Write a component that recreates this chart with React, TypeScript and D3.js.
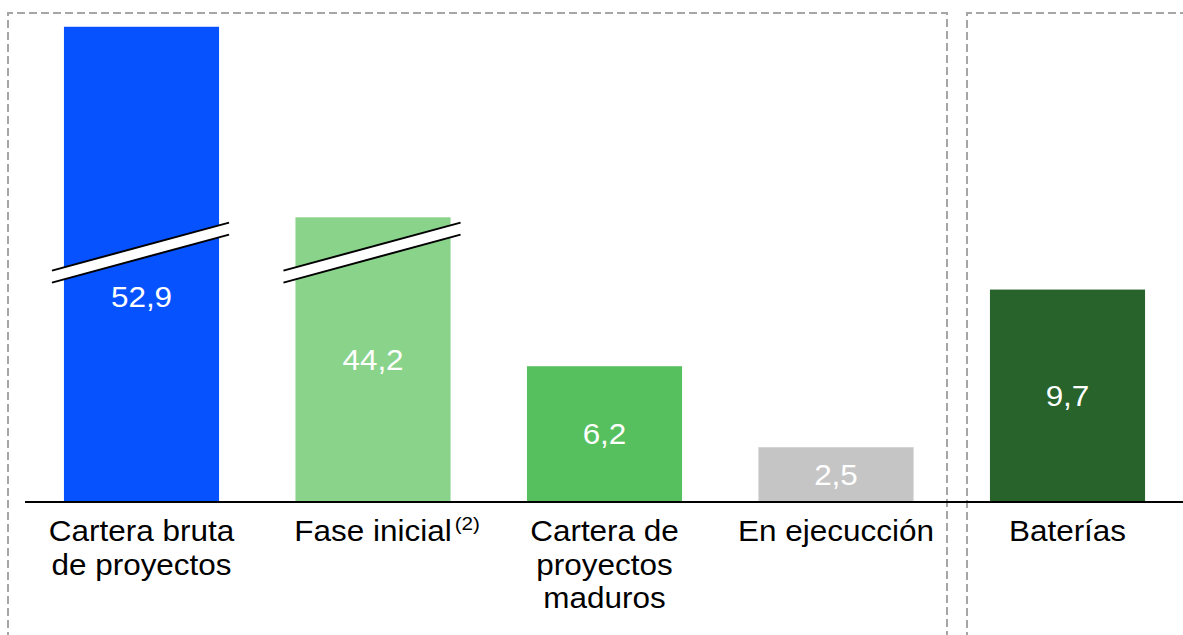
import React, { useRef, useEffect } from 'react';
import * as d3 from 'd3';

// categories, values (what the labels say) and the heights shown (first two bars are broken)
const categories = ['cartera', 'fase', 'maduros', 'ejecucion', 'baterias'];
const labelLines = [
  ['Cartera bruta', 'de proyectos'],
  ['Fase inicial'],
  ['Cartera de', 'proyectos', 'maduros'],
  ['En ejecucción'],
  ['Baterías'],
];
const notes = ['', '(2)', '', '', ''];
const values = [52.9, 44.2, 6.2, 2.5, 9.7];
const shownValues = [21.7, 13.0, 6.2, 2.5, 9.7];
const broken = [true, true, false, false, false];
const valueLabels = ['52,9', '44,2', '6,2', '2,5', '9,7'];
const colors = ['#0652FF', '#8AD38B', '#56BF5E', '#C5C5C5', '#27632B'];
const breakValue = 11.4;

const W = 1183;
const H = 635;
const FONT = 'Liberation Sans, Arial, sans-serif';
const STRETCH = 1.085;

const App = () => {
  const ref = useRef<SVGSVGElement>(null);

  useEffect(() => {
    const svg = d3.select(ref.current);
    svg.selectAll('*').remove();

    const x = d3.scaleBand<string>()
      .domain(categories)
      .range([25.75, 1183.25])
      .paddingInner(0.33)
      .paddingOuter(0.165);
    const y = d3.scaleLinear().domain([0, 10]).range([502, 283]);

    // dashed frames
    const frame = svg.append('g')
      .attr('fill', 'none')
      .attr('stroke', '#A6A6A6')
      .attr('stroke-width', 2)
      .attr('stroke-dasharray', '8,4');
    frame.append('path').attr('d', `M8,${H + 5} L8,13 L947,13 L947,${H + 5}`);
    frame.append('path').attr('d', `M967,${H + 5} L967,13 L${W + 5},13`);

    // bars
    svg.append('g')
      .selectAll('rect')
      .data(categories)
      .join('rect')
      .attr('x', (d) => x(d)!)
      .attr('width', x.bandwidth())
      .attr('y', (d, i) => y(shownValues[i]))
      .attr('height', (d, i) => y(0) - y(shownValues[i]))
      .attr('fill', (d, i) => colors[i]);

    // axis breaks
    const by = y(breakValue);
    const slope = -0.271;
    const gap = 6;
    categories.forEach((c, i) => {
      if (!broken[i]) return;
      const cx = x(c)! + x.bandwidth() / 2;
      const x0 = x(c)! - 12;
      const x1 = x(c)! + x.bandwidth() + 10;
      const yAt = (xx: number, off: number) => by + off + slope * (xx - cx);
      const g = svg.append('g');
      g.append('path')
        .attr('d', `M${x0},${yAt(x0, -gap)} L${x1},${yAt(x1, -gap)} L${x1},${yAt(x1, gap)} L${x0},${yAt(x0, gap)} Z`)
        .attr('fill', '#fff');
      [-gap, gap].forEach((off) => {
        g.append('line')
          .attr('x1', x0).attr('y1', yAt(x0, off))
          .attr('x2', x1).attr('y2', yAt(x1, off))
          .attr('stroke', '#000')
          .attr('stroke-width', 2);
      });
    });

    // baseline
    svg.append('line')
      .attr('x1', 25).attr('x2', W)
      .attr('y1', y(0)).attr('y2', y(0))
      .attr('stroke', '#000')
      .attr('stroke-width', 2);

    // value labels
    categories.forEach((c, i) => {
      const cx = x(c)! + x.bandwidth() / 2;
      let cy = (y(shownValues[i]) + y(0)) / 2;
      if (broken[i] && Math.abs(cy - by) < 40) cy = by + 45;
      svg.append('text')
        .attr('transform', `translate(${cx},${cy + 10}) scale(${STRETCH},1)`)
        .attr('text-anchor', 'middle')
        .attr('font-family', FONT)
        .attr('font-size', 29)
        .attr('fill', '#fff')
        .text(valueLabels[i]);
    });

    // category labels
    categories.forEach((c, i) => {
      const cx = x(c)! + x.bandwidth() / 2;
      labelLines[i].forEach((line, j) => {
        const t = svg.append('text')
          .attr('transform', `translate(${cx},${541 + j * 33.5}) scale(${STRETCH},1)`)
          .attr('text-anchor', 'middle')
          .attr('font-family', FONT)
          .attr('font-size', 29)
          .attr('fill', '#000')
          .text(line);
        if (j === 0 && notes[i]) {
          const w = (t.node() as SVGTextElement).getComputedTextLength() * STRETCH;
          svg.append('text')
            .attr('transform', `translate(${cx + w / 2 + 3},${530}) scale(${STRETCH},1)`)
            .attr('font-family', FONT)
            .attr('font-size', 19)
            .attr('fill', '#000')
            .text(notes[i]);
        }
      });
    });
  }, []);

  return <svg ref={ref} width={W} height={H} style={{ position: 'absolute', left: 0, top: 0 }}></svg>;
};

export default App;
